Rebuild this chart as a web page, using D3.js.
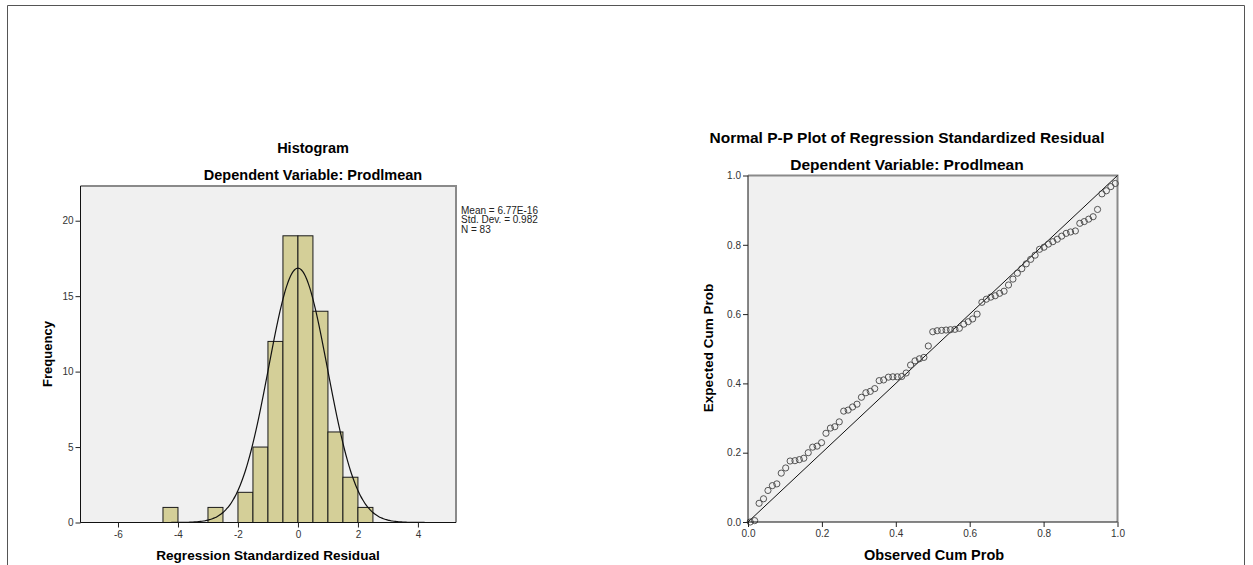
<!DOCTYPE html>
<html>
<head>
<meta charset="utf-8">
<script src="https://cdn.jsdelivr.net/npm/d3@7"></script>
<style>
  body { margin: 0; background: #fff; }
  text { font-family: "Liberation Sans", Arial, sans-serif; }
</style>
</head>
<body>
<svg></svg>
<script>
const size = {w: 1253, h: 565};
const svg = d3.select('svg').attr('width', size.w).attr('height', size.h);

// histogram data (bin width 0.5)
const binStart = [-4.5, -3.0, -2.0, -1.5, -1.0, -0.5, 0.0, 0.5, 1.0, 1.5, 2.0];
const binCount = [1, 1, 2, 5, 12, 19, 19, 14, 6, 3, 1];
const binWidth = 0.5;
const histXTicks = [-6, -4, -2, 0, 2, 4];
const histYTicks = [0, 5, 10, 15, 20];
const statMean = 6.77e-16;
const statSd = 0.982;
const statN = 83;
const statLabels = ['Mean = 6.77E-16', 'Std. Dev. = 0.982', 'N = 83'];

// P-P plot data
const obsCum = [.006,.018,.030,.042,.054,.066,.078,.090,.102,.114,
  .127,.139,.151,.163,.175,.187,.199,.211,.223,.235,
  .247,.259,.271,.283,.295,.307,.319,.331,.343,.355,
  .367,.380,.392,.404,.416,.428,.440,.452,.464,.476,
  .488,.500,.512,.524,.536,.548,.560,.572,.584,.596,
  .608,.620,.633,.645,.657,.669,.681,.693,.705,.717,
  .729,.741,.753,.765,.777,.789,.801,.813,.825,.837,
  .849,.861,.873,.886,.898,.910,.922,.934,.946,.958,
  .970,.982,.994];
const expCum = [.000,.004,.054,.067,.091,.105,.110,.141,.156,.176,
  .177,.180,.184,.200,.216,.219,.229,.256,.271,.275,
  .289,.320,.323,.332,.340,.360,.373,.377,.385,.408,
  .410,.418,.419,.419,.420,.430,.453,.465,.471,.475,
  .508,.549,.552,.553,.554,.555,.556,.559,.571,.578,
  .586,.600,.634,.643,.649,.653,.660,.666,.684,.701,
  .718,.731,.745,.758,.770,.787,.793,.802,.809,.816,
  .825,.833,.837,.840,.862,.867,.874,.881,.902,.947,
  .956,.968,.977];
const ppTicks = [0, 0.2, 0.4, 0.6, 0.8, 1.0];

// outer frame
svg.append('path')
  .attr('d', 'M7.5,565 V5.5 H1244.5 V565')
  .attr('fill', 'none')
  .attr('stroke', '#555')
  .attr('stroke-width', 1);

function frame(g, x0, x1, y0, y1) {
  g.append('rect')
    .attr('x', x0).attr('y', y1)
    .attr('width', x1 - x0).attr('height', y0 - y1)
    .attr('fill', '#f0f0f0');
  g.append('path')
    .attr('d', `M${x0},${y1} H${x1} V${y0}`)
    .attr('fill', 'none')
    .attr('stroke', '#8a8a8a')
    .attr('stroke-width', 2);
}

function axisStyle(sel) {
  sel.selectAll('path').attr('stroke', '#222');
  sel.selectAll('line').attr('stroke', '#222');
  sel.selectAll('text')
    .attr('fill', '#333')
    .style('font-size', '10px')
    .style('font-family', '"Liberation Sans", Arial, sans-serif');
}

// ---------- histogram ----------
const hist = svg.append('g');
const hx = d3.scaleLinear().domain([-7.25, 5.27]).range([80.5, 456]);
const hy = d3.scaleLinear().domain([0, 22.3]).range([522.5, 186]);

frame(hist, 80.5, 456, 522.5, 186);

hist.selectAll('rect.bar')
  .data(binStart.map((s, i) => ({s: s, c: binCount[i]})))
  .enter()
  .append('rect')
  .classed('bar', true)
  .attr('x', d => hx(d.s))
  .attr('y', d => hy(d.c))
  .attr('width', d => hx(d.s + binWidth) - hx(d.s))
  .attr('height', d => hy(0) - hy(d.c))
  .attr('fill', '#d4cf98')
  .attr('stroke', '#1a1a1a')
  .attr('stroke-width', 1);

// fitted normal curve from the stats shown in the legend
const curveX = d3.range(-7.25, 5.28, 0.05);
const normLine = d3.line()
  .x(d => hx(d))
  .y(d => hy(statN * binWidth / (statSd * Math.sqrt(2 * Math.PI)) *
    Math.exp(-0.5 * Math.pow((d - statMean) / statSd, 2))))
  .curve(d3.curveBasis);
hist.append('path')
  .attr('d', normLine(curveX))
  .attr('fill', 'none')
  .attr('stroke', '#111')
  .attr('stroke-width', 1.2);

const hxAxis = hist.append('g')
  .attr('transform', 'translate(0,522.5)')
  .call(d3.axisBottom(hx).tickValues(histXTicks).tickSize(5).tickPadding(3).tickFormat(d => String(d)))
  .call(axisStyle);
hxAxis.select('.domain').attr('d', 'M80.5,0H456').attr('stroke', '#111');

const hyAxis = hist.append('g')
  .attr('transform', 'translate(80.5,0)')
  .call(d3.axisLeft(hy).tickValues(histYTicks).tickSize(5).tickPadding(2).tickFormat(d => String(d)))
  .call(axisStyle);
hyAxis.select('.domain').attr('d', 'M0,186V522.5').attr('stroke', '#111');

hist.append('text').attr('x', 313).attr('y', 153)
  .attr('text-anchor', 'middle').style('font-size', '14.5px').style('font-weight', 'bold')
  .text('Histogram');
hist.append('text').attr('x', 313).attr('y', 180)
  .attr('text-anchor', 'middle').style('font-size', '14.5px').style('font-weight', 'bold')
  .text('Dependent Variable: Prodlmean');
hist.append('text').attr('x', 268).attr('y', 560)
  .attr('text-anchor', 'middle').style('font-size', '13.6px').style('font-weight', 'bold')
  .text('Regression Standardized Residual');
hist.append('text')
  .attr('transform', 'translate(52,354) rotate(-90)')
  .attr('text-anchor', 'middle').style('font-size', '13px').style('font-weight', 'bold')
  .text('Frequency');

hist.selectAll('text.stat')
  .data(statLabels)
  .enter()
  .append('text')
  .classed('stat', true)
  .attr('x', 461)
  .attr('y', (d, i) => 213.5 + i * 9.8)
  .attr('fill', '#222')
  .style('font-size', '10px')
  .text(d => d);

// ---------- P-P plot ----------
const pp = svg.append('g');
const px = d3.scaleLinear().domain([0, 1]).range([748, 1117.5]);
const py = d3.scaleLinear().domain([0, 1]).range([522, 175.5]);

frame(pp, 748, 1117.5, 522, 175.5);

pp.append('line')
  .attr('x1', px(0)).attr('y1', py(0))
  .attr('x2', px(1)).attr('y2', py(1))
  .attr('stroke', '#111')
  .attr('stroke-width', 1);

pp.selectAll('circle')
  .data(obsCum.map((o, i) => ({o: o, e: expCum[i]})))
  .enter()
  .append('circle')
  .attr('cx', d => px(d.o))
  .attr('cy', d => py(d.e))
  .attr('r', 3.1)
  .attr('fill', 'none')
  .attr('stroke', '#444')
  .attr('stroke-width', 0.9);

const pxAxis = pp.append('g')
  .attr('transform', 'translate(0,522)')
  .call(d3.axisBottom(px).tickValues(ppTicks).tickSize(5).tickPadding(3).tickFormat(d3.format('.1f')))
  .call(axisStyle);
pxAxis.select('.domain').attr('d', 'M748,0H1117.5').attr('stroke', '#111');

const pyAxis = pp.append('g')
  .attr('transform', 'translate(748,0)')
  .call(d3.axisLeft(py).tickValues(ppTicks).tickSize(5).tickPadding(2).tickFormat(d3.format('.1f')))
  .call(axisStyle);
pyAxis.select('.domain').attr('d', 'M0,175.5V522').attr('stroke', '#111');

pp.append('text').attr('x', 907).attr('y', 143)
  .attr('text-anchor', 'middle').style('font-size', '15.5px').style('font-weight', 'bold')
  .text('Normal P-P Plot of Regression Standardized Residual');
pp.append('text').attr('x', 907).attr('y', 170)
  .attr('text-anchor', 'middle').style('font-size', '15.5px').style('font-weight', 'bold')
  .text('Dependent Variable: Prodlmean');
pp.append('text').attr('x', 934).attr('y', 560)
  .attr('text-anchor', 'middle').style('font-size', '14.5px').style('font-weight', 'bold')
  .text('Observed Cum Prob');
pp.append('text')
  .attr('transform', 'translate(713,348) rotate(-90)')
  .attr('text-anchor', 'middle').style('font-size', '13.5px').style('font-weight', 'bold')
  .text('Expected Cum Prob');
</script>
</body>
</html>
